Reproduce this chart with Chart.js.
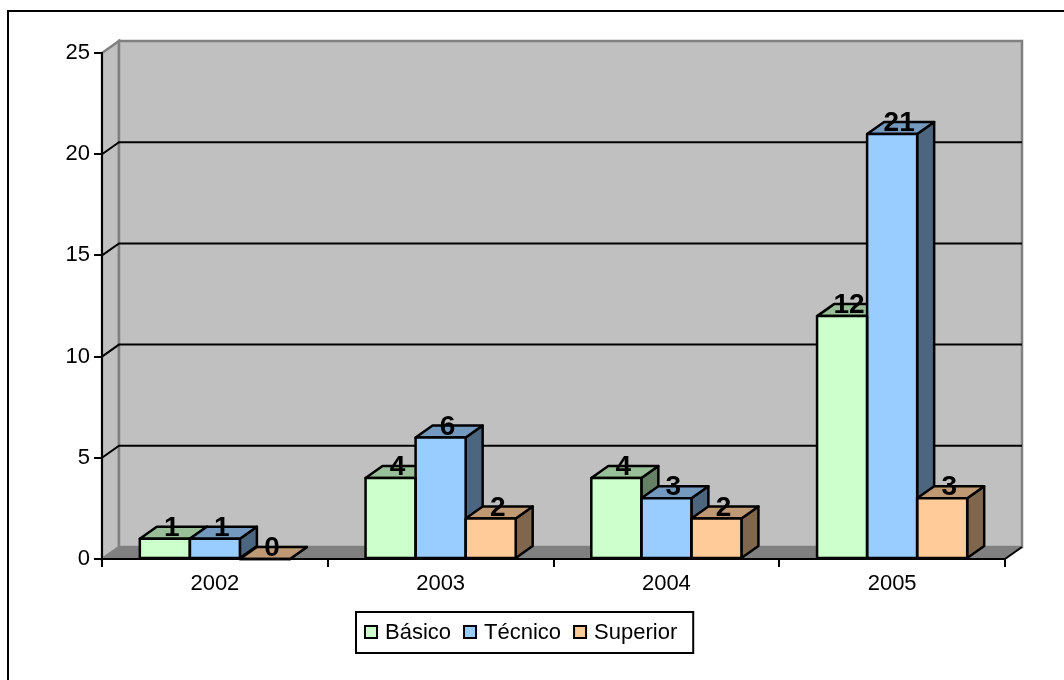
<!DOCTYPE html>
<html>
<head>
<meta charset="utf-8">
<script src="https://cdn.jsdelivr.net/npm/chart.js@4.4.0/dist/chart.umd.min.js"></script>
<style>
  html, body { margin: 0; padding: 0; background: #fff; }
  canvas { display: block; }
</style>
</head>
<body>
<canvas id="nivelChart" width="1064" height="680"></canvas>
<script>
const years = ["2002", "2003", "2004", "2005"];
const basico = [1, 4, 4, 12];
const tecnico = [1, 6, 3, 21];
const superior = [0, 2, 2, 3];
const yTicks = [0, 5, 10, 15, 20, 25];
const seriesNames = ["Básico", "Técnico", "Superior"];

// front / top / side shades per series
const faceColors = [
    { front: "#CCFFCC", top: "#99BF99", side: "#668066" },
    { front: "#99CCFF", top: "#7399BF", side: "#4D6680" },
    { front: "#FFCC99", top: "#BF9973", side: "#80664D" }
];

// depth offset of the fake 3D view
const DX = 17, DY = -12;
const FONT = '"Liberation Sans", Arial, sans-serif';
const EDGE = 2.5;

function poly(ctx, pts, fill, stroke, lw) {
    ctx.beginPath();
    ctx.moveTo(pts[0][0], pts[0][1]);
    for (let i = 1; i < pts.length; i++) ctx.lineTo(pts[i][0], pts[i][1]);
    ctx.closePath();
    if (fill) { ctx.fillStyle = fill; ctx.fill(); }
    if (stroke) { ctx.strokeStyle = stroke; ctx.lineWidth = lw || 2; ctx.stroke(); }
}

function barBox(el) {
    return { x0: el.x - el.width / 2, x1: el.x + el.width / 2, yt: el.y, yb: el.base };
}

const box3d = {
    id: "box3d",
    beforeDraw(chart) {
        const ctx = chart.ctx;
        const { left, right, top, bottom } = chart.chartArea;
        const yScale = chart.scales.y;
        ctx.save();
        ctx.fillStyle = "#fff";
        ctx.fillRect(0, 0, chart.width, chart.height);

        // side wall + back wall
        poly(ctx, [[left, top], [left + DX, top + DY], [left + DX, bottom + DY], [left, bottom]], "#C0C0C0", "#808080", 2.5);
        poly(ctx, [[left + DX, top + DY], [right + DX, top + DY], [right + DX, bottom + DY], [left + DX, bottom + DY]], "#C0C0C0", "#808080", 2.5);

        // grid lines running along both walls
        ctx.strokeStyle = "#000";
        ctx.lineWidth = 2;
        yTicks.forEach(v => {
            if (v === yTicks[0] || v === yTicks[yTicks.length - 1]) return;
            const py = yScale.getPixelForValue(v);
            ctx.beginPath();
            ctx.moveTo(left, py);
            ctx.lineTo(left + DX, py + DY);
            ctx.lineTo(right + DX, py + DY);
            ctx.stroke();
        });

        // floor
        poly(ctx, [[left, bottom], [left + DX, bottom + DY], [right + DX, bottom + DY], [right, bottom]], "#808080", null);
        ctx.strokeStyle = "#000";
        ctx.lineWidth = 2;
        ctx.beginPath();
        ctx.moveTo(right, bottom);
        ctx.lineTo(right + DX, bottom + DY);
        ctx.stroke();
        ctx.restore();
    },
    beforeDatasetsDraw(chart) {
        const ctx = chart.ctx;
        ctx.save();
        ctx.lineJoin = "round";
        chart.data.datasets.forEach((ds, i) => {
            const meta = chart.getDatasetMeta(i);
            meta.data.forEach(el => {
                const b = barBox(el);
                poly(ctx, [[b.x1, b.yt], [b.x1 + DX, b.yt + DY], [b.x1 + DX, b.yb + DY], [b.x1, b.yb]], faceColors[i].side, "#000", EDGE);
                poly(ctx, [[b.x0, b.yt], [b.x0 + DX, b.yt + DY], [b.x1 + DX, b.yt + DY], [b.x1, b.yt]], faceColors[i].top, "#000", EDGE);
            });
        });
        ctx.restore();
    },
    afterDatasetsDraw(chart) {
        const ctx = chart.ctx;
        ctx.save();
        ctx.strokeStyle = "#000";
        ctx.lineWidth = EDGE;
        ctx.lineJoin = "round";
        chart.data.datasets.forEach((ds, i) => {
            chart.getDatasetMeta(i).data.forEach(el => {
                const b = barBox(el);
                ctx.strokeRect(b.x0, b.yt, b.x1 - b.x0, b.yb - b.yt);
            });
        });
        // value labels
        ctx.fillStyle = "#000";
        ctx.font = "bold 28px " + FONT;
        ctx.textAlign = "center";
        ctx.textBaseline = "alphabetic";
        chart.data.datasets.forEach((ds, i) => {
            chart.getDatasetMeta(i).data.forEach((el, j) => {
                ctx.fillText(String(ds.data[j]), el.x + 7, el.y + DY - 1 + 10);
            });
        });
        ctx.restore();
    },
    afterDraw(chart) {
        const ctx = chart.ctx;
        ctx.save();
        // legend
        ctx.font = "22px " + FONT;
        ctx.textBaseline = "middle";
        ctx.textAlign = "left";
        const lx = 356, ly = 612, cy = 632;
        let x = lx + 8;
        chart.data.datasets.forEach((ds, i) => {
            ctx.fillStyle = faceColors[i].front;
            ctx.fillRect(x + 1, cy - 6, 12, 12);
            ctx.strokeStyle = "#000";
            ctx.lineWidth = 2;
            ctx.strokeRect(x + 1, cy - 6, 12, 12);
            x += 21;
            ctx.fillStyle = "#000";
            ctx.fillText(ds.label, x, cy + 1);
            x += ctx.measureText(ds.label).width + 12;
        });
        ctx.lineWidth = 2;
        ctx.strokeRect(lx, ly, x + 4 - lx, 41);

        // outer frame
        ctx.strokeRect(8, 11, 1200, 1000);
        ctx.restore();
    }
};

new Chart(document.getElementById("nivelChart").getContext("2d"), {
    type: "bar",
    data: {
        labels: years,
        datasets: [
            { label: seriesNames[0], data: basico, backgroundColor: faceColors[0].front, borderWidth: 0 },
            { label: seriesNames[1], data: tecnico, backgroundColor: faceColors[1].front, borderWidth: 0 },
            { label: seriesNames[2], data: superior, backgroundColor: faceColors[2].front, borderWidth: 0 }
        ]
    },
    options: {
        responsive: false,
        animation: false,
        devicePixelRatio: 1,
        layout: { padding: { left: 8, top: 53, right: 59, bottom: 0 } },
        datasets: { bar: { categoryPercentage: 0.665, barPercentage: 1 } },
        scales: {
            x: {
                grid: { offset: true, drawOnChartArea: false, color: "#000", lineWidth: 2, tickLength: 8 },
                border: { color: "#000", width: 2 },
                ticks: { color: "#000", font: { family: FONT, size: 22 }, padding: 4 },
                afterFit: s => { s.height = 121; }
            },
            y: {
                min: 0,
                max: 25,
                grid: { drawOnChartArea: false, color: "#000", lineWidth: 2, tickLength: 8 },
                border: { color: "#000", width: 2 },
                ticks: { color: "#000", font: { family: FONT, size: 22 }, padding: 4 },
                afterBuildTicks: s => { s.ticks = yTicks.map(v => ({ value: v })); },
                afterFit: s => { s.width = 94; }
            }
        },
        plugins: {
            legend: { display: false },
            tooltip: { enabled: false }
        }
    },
    plugins: [box3d]
});
</script>
</body>
</html>
